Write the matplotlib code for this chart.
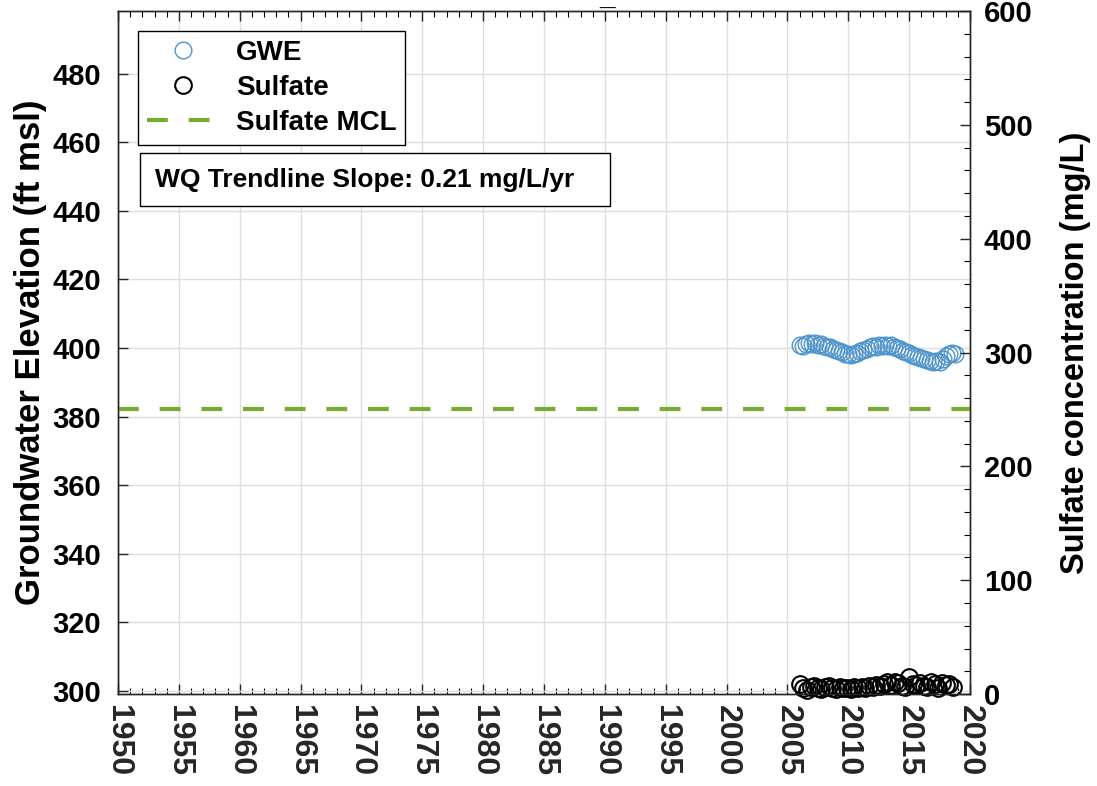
import matplotlib

matplotlib.use("Agg")
import matplotlib.pyplot as plt
from matplotlib.lines import Line2D
from matplotlib.patches import Rectangle
from matplotlib.ticker import MultipleLocator

plt.rcParams["font.family"] = ["Liberation Sans", "DejaVu Sans"]
plt.rcParams["font.weight"] = "bold"

# groundwater elevation (ft msl), roughly quarterly
gwe_years = [
    2006.00, 2006.25, 2006.50, 2006.75, 2007.00, 2007.25, 2007.50, 2007.75,
    2008.00, 2008.25, 2008.50, 2008.75, 2009.00, 2009.25, 2009.50, 2009.75,
    2010.00, 2010.25, 2010.50, 2010.75, 2011.00, 2011.25, 2011.50, 2011.75,
    2012.00, 2012.25, 2012.50, 2012.75, 2013.00, 2013.25, 2013.50, 2013.75,
    2014.00, 2014.25, 2014.50, 2014.75, 2015.00, 2015.25, 2015.50, 2015.75,
    2016.00, 2016.25, 2016.50, 2016.75, 2017.00, 2017.25, 2017.50, 2017.75,
    2018.00, 2018.25, 2018.50, 2018.75,
]
gwe_values = [
    400.8, 400.5, 401.2, 401.6, 401.3, 401.5, 400.9, 401.1,
    400.6, 400.2, 400.4, 399.7, 399.3, 399.0, 398.8, 398.4,
    398.2, 397.9, 398.3, 398.6, 399.0, 399.4, 399.8, 400.2,
    400.6, 400.4, 400.9, 400.7, 401.0, 400.6, 400.8, 400.3,
    400.1, 399.6, 399.2, 398.8, 398.5, 398.0, 397.8, 397.4,
    397.2, 396.8, 396.5, 396.2, 396.0, 396.3, 395.9, 396.8,
    397.6, 398.2, 398.6, 398.4,
]

# sulfate concentration (mg/L)
so4_years = [
    2006.0, 2006.3, 2006.6, 2006.9, 2007.2, 2007.5, 2007.8, 2008.1, 2008.4,
    2008.7, 2009.0, 2009.3, 2009.6, 2009.9, 2010.2, 2010.5, 2010.8, 2011.1,
    2011.4, 2011.7, 2012.0, 2012.3, 2012.6, 2012.9, 2013.2, 2013.5, 2013.8,
    2014.1, 2014.4, 2014.7, 2015.0, 2015.3, 2015.6, 2015.9, 2016.2, 2016.5,
    2016.8, 2017.1, 2017.4, 2017.7, 2018.0, 2018.3, 2018.6,
]
so4_values = [
    8.5, 5.0, 3.5, 6.0, 7.5, 5.0, 4.0, 6.5, 7.0,
    5.5, 4.5, 6.0, 5.0, 5.5, 4.0, 6.0, 5.0, 6.5,
    5.5, 7.0, 6.0, 8.0, 7.0, 9.0, 10.5, 8.0, 11.0,
    9.5, 7.0, 6.0, 15.0, 9.0, 8.0, 10.0, 7.0, 6.0,
    11.0, 9.0, 5.0, 10.0, 8.0, 9.0, 6.0,
]

mcl_years = [1950, 2020]
mcl_values = [250, 250]

x_ticks = list(range(1950, 2021, 5))
left_ticks = list(range(300, 481, 20))
right_ticks = list(range(0, 601, 100))

gwe_color = "#4f95cc"
mcl_color = "#77ac30"
tick_color = "#262626"

fig = plt.figure(figsize=(10.97, 7.86), dpi=100)
ax = fig.add_axes([0.1076, 0.117, 0.7766, 0.869])
ax2 = ax.twinx()

ax.plot(gwe_years, gwe_values, linestyle="none", marker="o", markersize=12,
        markerfacecolor="none", markeredgecolor=gwe_color, markeredgewidth=1.0)
ax2.plot(so4_years, so4_values, linestyle="none", marker="o", markersize=12,
         markerfacecolor="none", markeredgecolor="black", markeredgewidth=1.5,
         clip_on=False)
ax2.plot(mcl_years, mcl_values, color=mcl_color, linewidth=3.0,
         linestyle=(0, (5, 5)))

ax.set_xlim(1950, 2020)
ax.set_ylim(299.1, 498.3)
ax2.set_ylim(0, 600)

ax.set_xticks(x_ticks)
ax.set_xticklabels([str(t) for t in x_ticks], rotation=-90)
ax.xaxis.set_minor_locator(MultipleLocator(1))
ax.set_yticks(left_ticks)
ax2.set_yticks(right_ticks)
ax2.yaxis.set_minor_locator(MultipleLocator(20))

ax.grid(True, which="major", color="#dedede", linewidth=1.0)
ax.set_axisbelow(True)

ax.tick_params(axis="both", which="major", direction="in", length=7, width=1,
               colors=tick_color, top=True)
ax.tick_params(axis="y", labelsize=21, pad=12)
ax.tick_params(axis="x", labelsize=23, pad=8)
ax.tick_params(axis="x", which="minor", direction="in", length=4, width=0.8,
               top=True)
ax2.tick_params(axis="y", which="major", direction="in", length=7, width=1,
                labelsize=21, colors=tick_color, pad=10)
ax2.tick_params(axis="y", which="minor", direction="in", length=4, width=0.8)
for lbl in ax.get_yticklabels() + ax2.get_yticklabels():
    lbl.set_fontweight("bold")
    lbl.set_color("black")
for lbl in ax.get_xticklabels():
    lbl.set_fontweight("bold")
    lbl.set_color(tick_color)

for a in (ax, ax2):
    for sp in a.spines.values():
        sp.set_color(tick_color)
        sp.set_linewidth(1.0)

ax.set_ylabel("Groundwater Elevation (ft msl)", fontsize=25, fontweight="bold",
              labelpad=4)
ax2.set_ylabel("Sulfate concentration (mg/L)", fontsize=23.5, fontweight="bold",
               labelpad=20)

handles = [
    Line2D([], [], linestyle="none", marker="o", markersize=12,
           markerfacecolor="none", markeredgecolor=gwe_color),
    Line2D([], [], linestyle="none", marker="o", markersize=12,
           markerfacecolor="none", markeredgecolor="black", markeredgewidth=1.5),
    Line2D([], [], color=mcl_color, linewidth=3.0, linestyle=(0, (5, 5))),
]
leg = ax2.legend(handles, ["GWE", "Sulfate", "Sulfate MCL"], loc="upper left",
                 bbox_to_anchor=(0.0235, 0.971), borderaxespad=0,
                 fancybox=False, edgecolor="black", framealpha=1,
                 prop={"size": 20, "weight": "bold"}, handlelength=2.6,
                 labelspacing=0.33, borderpad=0.32, handletextpad=0.6)
leg.get_frame().set_linewidth(1.0)

ax2.add_patch(Rectangle((0.0258, 0.7145), 0.5517, 0.0775, transform=ax2.transAxes,
                        facecolor="white", edgecolor="black", linewidth=1.0,
                        zorder=5))
ax2.text(0.0434, 0.752, "WQ Trendline Slope: 0.21 mg/L/yr", transform=ax2.transAxes,
         fontsize=19, fontweight="bold", va="center", ha="left", zorder=6)

fig.text(0.553, 0.985, "_", fontsize=20, fontweight="bold", ha="center",
         va="bottom")

fig.savefig("out.png", dpi=100, facecolor="white")
